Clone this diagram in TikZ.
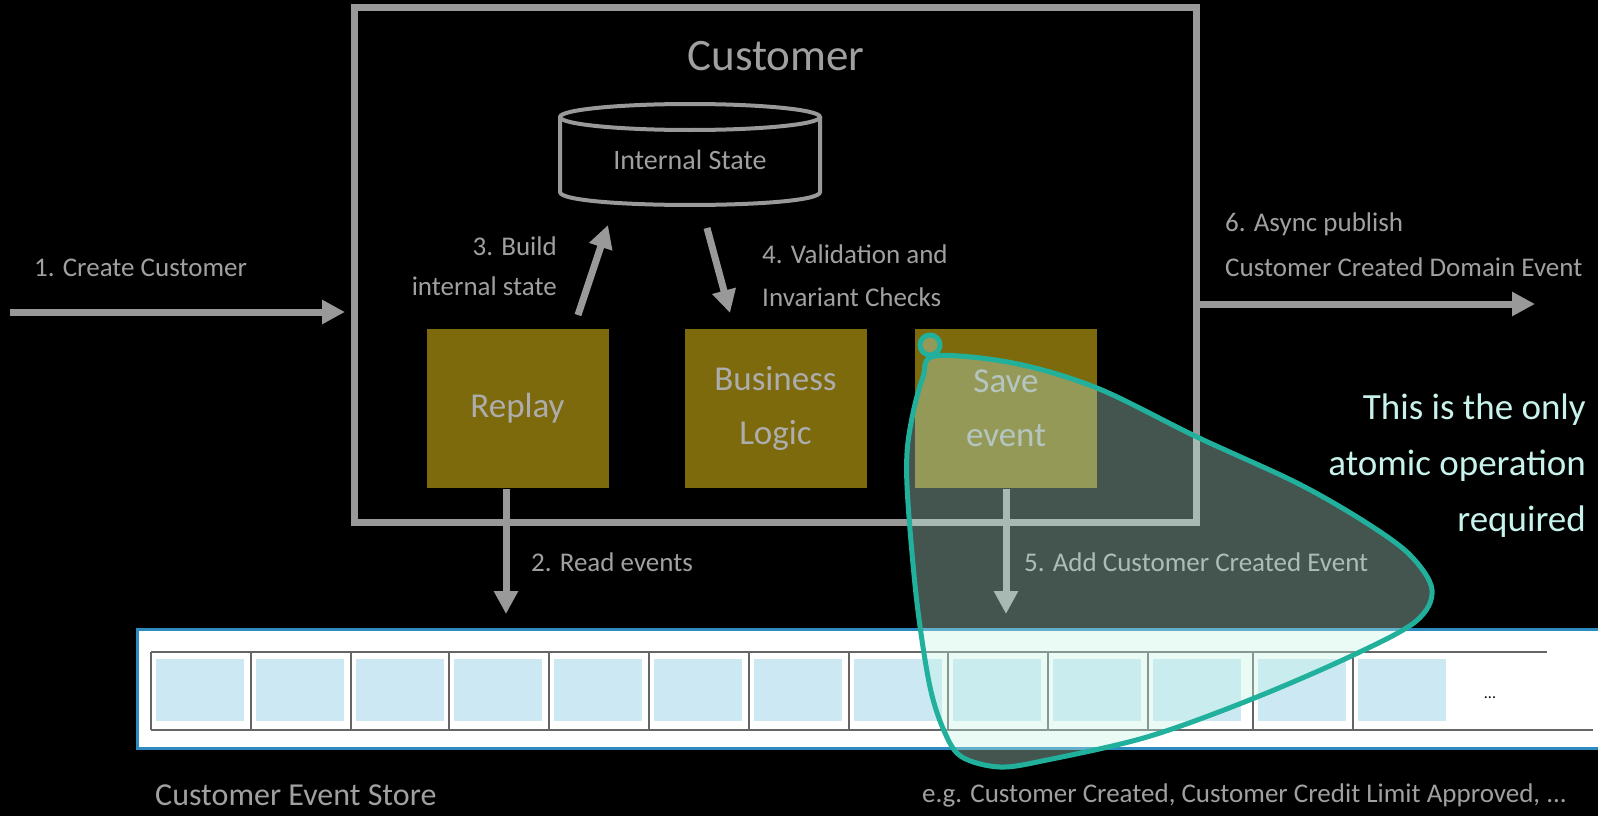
\documentclass[tikz,border=0pt]{standalone}
\usepackage{fontspec}
\setmainfont{Carlito}
\usetikzlibrary{arrows.meta}
\definecolor{lg}{HTML}{999999}
\definecolor{txt}{HTML}{A0A0A0}
\definecolor{olivebox}{HTML}{7C6A0C}
\definecolor{boxtxt}{HTML}{ADADAD}
\definecolor{tealline}{HTML}{20B09C}
\definecolor{blobfill}{HTML}{C5F3E5}
\definecolor{notecol}{HTML}{C8F3EC}
\definecolor{storeb}{HTML}{2E8BC0}
\definecolor{sqc}{HTML}{CCE9F3}
\definecolor{stripl}{HTML}{666666}
\begin{document}
\begin{tikzpicture}[x=1pt,y=-1pt,
  garrow/.style={draw=lg, line width=7pt, -{Triangle[length=23pt,width=23pt]}},
  lbl/.style={text=txt, inner sep=0pt, font=\fontsize{27}{32}\selectfont},
  compbox/.style={fill=olivebox, minimum width=182pt, minimum height=159pt, inner sep=0pt, text=boxtxt, align=center, font=\fontsize{35}{54}\selectfont},
  sq/.style={fill=sqc, minimum width=88pt, minimum height=62pt, inner sep=0pt, anchor=north west},
  notestyle/.style={text=notecol, inner sep=0pt, align=right, font=\fontsize{37}{56}\selectfont},
  blob/.style={draw=tealline, line width=5pt, fill=blobfill, fill opacity=0.35}
]
\fill[black] (0,0) rectangle (1598,816);
\useasboundingbox (0,0) rectangle (1598,816);

% Customer aggregate box
\node[draw=lg, line width=7pt, minimum width=842pt, minimum height=514pt, inner sep=0pt] (cust) at (775,265) {};
\node[text=txt, inner sep=0pt, font=\fontsize{45}{50}\selectfont] (title) at (776,56) {Customer};

% Internal state cylinder
\node[minimum width=260pt, minimum height=102pt, inner sep=0pt, text=txt, font=\fontsize{28}{32}\selectfont] (state) at (690,160) {Internal State};
\draw[lg, line width=4pt] (690,117) ellipse [x radius=130, y radius=13];
\draw[lg, line width=4pt] (560,117) -- (560,192) .. controls (560,209.3) and (820,209.3) .. (820,192) -- (820,117);

% component boxes
\node[compbox] (replay) at (517.5,408.5) {Replay};
\node[compbox] (logic) at (775.5,408.5) {Business\\Logic};
\node[compbox] (save) at (1006,408.5) {Save\\event};

% event store
\node[draw=storeb, line width=3pt, fill=white, minimum width=1490pt, minimum height=119pt, inner sep=0pt] (store) at (882,688.5) {};
\draw[stripl, line width=2pt] (151,652) -- (1547,652);
\draw[stripl, line width=2pt] (151,730) -- (1593,730);
\foreach \x in {151,251,351,449,549,649,749,849,948,1048,1148,1253,1353}{
  \draw[stripl, line width=2pt] (\x,652) -- (\x,730);
}
\foreach \x [count=\i] in {151,251,351,449,549,649,749,849,948,1048,1148,1253,1353}{
  \node[sq] (sq\i) at (\x+5,659) {};
}
\node[inner sep=0pt, text=black, font=\fontsize{16}{18}\selectfont] (dots) at (1490,698) {...};

% coordinates for connectors
\coordinate (inS) at (10,312);
\coordinate (inE) at (345,312);
\coordinate (a2s) at (506,489);
\coordinate (a2e) at (506,614);
\coordinate (a3s) at (578,315);
\coordinate (a3e) at (608,225);
\coordinate (a4s) at (707,228);
\coordinate (a4e) at (730,313);
\coordinate (a5s) at (1006,489);
\coordinate (a5e) at (1006,614);
\coordinate (a6s) at (1200,304);
\coordinate (a6e) at (1535,304);

\draw[garrow] (inS) -- (inE);
\draw[garrow] (a2s) -- (a2e);
\draw[garrow] (a3s) -- (a3e);
\draw[garrow] (a4s) -- (a4e);
\draw[garrow] (a5s) -- (a5e);
\draw[garrow] (a6s) -- (a6e);

% labels
\node[lbl, anchor=west] (l1) at (34,268) {1. Create Customer};
\node[lbl, anchor=west] (l2) at (531,562) {2. Read events};
\node[lbl, anchor=east, align=right, font=\fontsize{27}{40}\selectfont] (l3) at (557,266) {3. Build\\internal state};
\node[lbl, anchor=west, align=left, font=\fontsize{27}{43}\selectfont] (l4) at (762,276) {4. Validation and\\Invariant Checks};
\node[lbl, anchor=west] (l5) at (1024,562) {5. Add Customer Created Event};
\node[lbl, anchor=west, align=left, font=\fontsize{27}{45}\selectfont] (l6) at (1225,245) {6. Async publish\\Customer Created Domain Event};
\node[lbl, anchor=west, font=\fontsize{32}{36}\selectfont] (storelbl) at (155,795) {Customer Event Store};
\node[lbl, anchor=west] (eg) at (922,795) {e.g. Customer Created, Customer Credit Limit Approved, ...};

\node[notestyle, anchor=east] (note) at (1586,466) {This is the only\\atomic operation\\required};

% atomic operation blob
\draw[blob]
  plot[smooth cycle, tension=0.55] coordinates {
    (935,356) (1013,363) (1097,388) (1197,437) (1297,483) (1365,522) (1410,555)
    (1432,590) (1415,622) (1347,658) (1247,701) (1147,737) (1047,760) (1000,767)
    (962,757) (945,733) (930,687) (917,603) (908,503) (907,453) (913,413) (923,377)
  };
\draw[blob] (930,345) circle (10);
\end{tikzpicture}
\end{document}
